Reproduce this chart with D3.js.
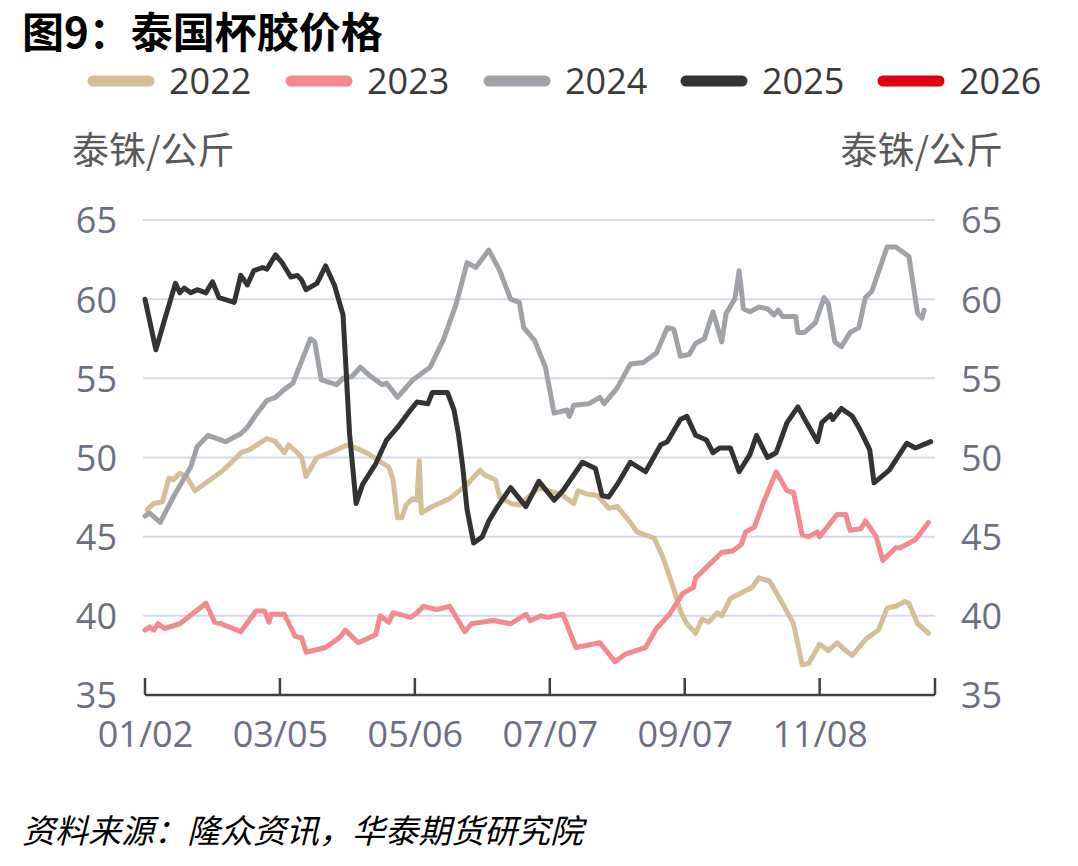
<!DOCTYPE html>
<html>
<head>
<meta charset="utf-8">
<script src="https://cdn.jsdelivr.net/npm/d3@7"></script>
<style>
  html, body { margin: 0; padding: 0; background: #ffffff; }
  svg { display: block; }
</style>
</head>
<body>
<svg id="chart" width="1078" height="866"></svg>
<script>
// ---- data (day of year, 泰铢/公斤) ----
const seriesNames = ["2022", "2023", "2024", "2025", "2026"];
const seriesColors = ["#d3bf98", "#f28a8f", "#9fa2a6", "#333333", "#e00012"];

const xTickDays = [2, 64, 126, 188, 250, 312];
const xTickLabels = ["01/02", "03/05", "05/06", "07/07", "09/07", "11/08"];
const yTicks = [35, 40, 45, 50, 55, 60, 65];

const data2022 = [[3,46.7],[6,47.1],[10,47.2],[13,48.7],[15,48.6],[18,49.0],[21,48.8],[25,47.9],[32,48.6],[38,49.2],[44,50.0],[46,50.3],[50,50.5],[58,51.2],[62,51.0],[66,50.3],[68,50.8],[72,50.3],[74,50.0],[76,48.8],[81,50.0],[87,50.3],[95,50.8],[99,50.6],[105,50.2],[114,49.4],[116,48.6],[118,46.2],[120,46.2],[122,47.0],[125,47.4],[127,47.3],[128,49.8],[129,46.5],[134,46.9],[142,47.4],[150,48.3],[156,49.2],[158,48.9],[163,48.6],[165,47.5],[170,47.1],[174,47.0],[179,47.6],[183,48.1],[190,47.8],[194,47.6],[199,47.1],[201,47.9],[205,47.7],[210,47.6],[215,46.8],[219,46.9],[225,45.9],[228,45.3],[236,44.9],[240,43.7],[244,42.1],[248,40.3],[251,39.5],[255,38.9],[258,39.8],[261,39.6],[265,40.2],[267,40.0],[271,41.1],[281,41.8],[284,42.4],[289,42.2],[294,41.0],[300,39.5],[304,36.9],[307,37.0],[312,38.2],[316,37.8],[320,38.3],[324,37.8],[327,37.5],[330,38.0],[333,38.5],[339,39.1],[343,40.5],[347,40.6],[351,40.9],[353,40.8],[357,39.5],[362,38.9]];

const data2023 = [[2,39.1],[4,39.3],[6,39.1],[8,39.5],[11,39.2],[18,39.5],[30,40.8],[34,39.6],[37,39.5],[46,39.0],[53,40.3],[57,40.3],[59,39.6],[60,40.1],[66,40.1],[71,38.7],[74,38.6],[76,37.7],[85,38.0],[89,38.4],[92,38.7],[94,39.1],[100,38.3],[108,38.8],[110,40.0],[114,39.6],[116,40.2],[124,39.9],[127,40.2],[130,40.6],[136,40.4],[142,40.6],[149,39.0],[152,39.5],[162,39.7],[170,39.5],[177,40.1],[179,39.7],[184,40.0],[187,39.9],[194,40.1],[200,38.0],[211,38.3],[218,37.1],[223,37.6],[232,38.0],[237,39.2],[243,40.1],[249,41.4],[254,41.8],[255,42.4],[267,44.0],[272,44.1],[276,44.5],[278,45.3],[282,45.6],[286,47.1],[289,48.1],[292,49.1],[297,47.9],[300,47.8],[304,45.1],[307,45.0],[311,45.3],[312,45.0],[320,46.4],[324,46.4],[326,45.4],[331,45.5],[333,46.0],[338,45.0],[341,43.5],[347,44.3],[349,44.3],[356,44.8],[362,45.9]];

const data2024 = [[2,46.3],[4,46.5],[9,45.9],[15,47.5],[23,49.4],[26,50.7],[31,51.4],[39,51.0],[46,51.5],[49,51.9],[53,52.7],[58,53.6],[62,53.8],[66,54.3],[70,54.7],[78,57.5],[80,57.3],[83,54.9],[90,54.6],[93,55.0],[97,55.1],[101,55.7],[105,55.2],[111,54.6],[113,54.7],[118,53.8],[125,54.9],[133,55.7],[139,57.4],[145,59.7],[150,62.3],[154,62.0],[160,63.1],[165,61.8],[170,60.0],[174,59.8],[176,58.2],[181,57.4],[186,55.7],[190,52.8],[196,53.0],[197,52.6],[199,53.3],[206,53.4],[211,53.8],[213,53.4],[219,54.4],[225,55.9],[231,56.0],[237,56.6],[242,58.2],[245,58.1],[248,56.4],[252,56.5],[255,57.2],[259,57.5],[263,59.2],[267,57.3],[269,59.1],[273,60.0],[275,61.8],[277,59.4],[280,59.2],[284,59.5],[288,59.4],[291,59.0],[293,59.3],[295,58.9],[301,58.9],[302,57.9],[305,57.9],[310,58.5],[314,60.1],[316,59.7],[319,57.3],[322,57.0],[326,57.9],[330,58.2],[333,60.1],[336,60.5],[343,63.3],[347,63.3],[353,62.7],[357,59.1],[359,58.8],[360,59.3]];

const data2025 = [[2,60.0],[7,56.8],[11,58.7],[16,61.0],[18,60.4],[20,60.7],[23,60.4],[26,60.6],[30,60.4],[33,61.1],[36,60.1],[43,59.8],[46,61.5],[49,60.9],[52,61.8],[56,62.0],[58,61.9],[62,62.8],[65,62.3],[69,61.4],[72,61.5],[74,61.2],[76,60.6],[81,61.0],[85,62.1],[89,60.9],[93,59.0],[96,51.5],[99,47.1],[102,48.3],[108,49.6],[113,51.1],[118,51.9],[124,53.0],[127,53.5],[132,53.4],[134,54.1],[141,54.1],[144,53.0],[146,51.5],[148,49.4],[150,46.7],[153,44.6],[157,45.0],[160,46.0],[164,46.9],[170,48.1],[177,46.9],[183,48.5],[190,47.3],[194,47.9],[203,49.7],[209,49.3],[212,47.6],[215,47.5],[219,48.3],[225,49.7],[232,49.1],[239,50.8],[242,51.0],[248,52.4],[251,52.6],[255,51.4],[260,51.1],[263,50.3],[266,50.6],[271,50.6],[275,49.1],[280,50.2],[283,51.4],[288,50.0],[292,50.3],[297,52.2],[302,53.2],[306,52.2],[311,51.0],[313,52.2],[317,52.7],[318,52.4],[322,53.1],[327,52.6],[330,51.9],[335,50.5],[337,48.4],[344,49.2],[352,50.9],[356,50.6],[363,51.0]];

const data2026 = [];

const seriesData = [data2022, data2023, data2024, data2025, data2026];

// ---- drawing ----
const svg = d3.select("#chart");
const numFont = "'Open Sans', 'Noto Sans', sans-serif";
const cjkFont = "'Noto Sans CJK SC', 'Noto Sans', sans-serif";

const x = d3.scaleLinear().domain([2, 365]).range([145, 935]);
const y = d3.scaleLinear().domain([35, 65]).range([695, 220]);

// title
svg.append("text")
  .attr("x", 22).attr("y", 48)
  .attr("font-family", cjkFont).attr("font-weight", "bold")
  .attr("font-size", 42).attr("fill", "#000")
  .text("图9：泰国杯胶价格");

// legend
const legendX = [90, 288, 486, 683, 880];
seriesNames.forEach((name, i) => {
  const g = svg.append("g").attr("transform", `translate(${legendX[i]},81)`);
  g.append("line").attr("x1", 3).attr("x2", 59).attr("y1", 0).attr("y2", 0)
    .attr("stroke", seriesColors[i]).attr("stroke-width", 11).attr("stroke-linecap", "round");
  g.append("text").attr("x", 79).attr("y", 13)
    .attr("font-family", numFont).attr("font-size", 36).attr("fill", "#3a3a3a")
    .text(name);
});

// unit labels
svg.append("text").attr("x", 72).attr("y", 164)
  .attr("font-family", cjkFont).attr("font-size", 37).attr("fill", "#595959")
  .text("泰铢/公斤");
svg.append("text").attr("x", 1003).attr("y", 164).attr("text-anchor", "end")
  .attr("font-family", cjkFont).attr("font-size", 37).attr("fill", "#595959")
  .text("泰铢/公斤");

// gridlines
svg.append("g").selectAll("line").data(yTicks.filter(v => v > 35)).join("line")
  .attr("x1", 143).attr("x2", 935)
  .attr("y1", d => y(d)).attr("y2", d => y(d))
  .attr("stroke", "#d6d9e6").attr("stroke-width", 2);

// y axes labels
const leftAxis = d3.axisLeft(y).tickValues(yTicks).tickSize(0).tickPadding(0);
const gl = svg.append("g").attr("transform", "translate(117,0)").call(leftAxis);
gl.select(".domain").remove();
gl.selectAll("text").attr("font-family", numFont).attr("font-size", 36).attr("fill", "#6d6f80").attr("dy", "0.36em");

const rightAxis = d3.axisRight(y).tickValues(yTicks).tickSize(0).tickPadding(0);
const gr = svg.append("g").attr("transform", "translate(961,0)").call(rightAxis);
gr.select(".domain").remove();
gr.selectAll("text").attr("font-family", numFont).attr("font-size", 36).attr("fill", "#6d6f80").attr("dy", "0.36em");

// lines
const line = d3.line().x(d => x(d[0])).y(d => y(d[1]));
seriesData.forEach((arr, i) => {
  if (!arr.length) return;
  svg.append("path").datum(arr)
    .attr("d", line)
    .attr("fill", "none")
    .attr("stroke", seriesColors[i])
    .attr("stroke-width", 5)
    .attr("stroke-linejoin", "round")
    .attr("stroke-linecap", "round");
});

// x axis
const xAxis = d3.axisBottom(x).tickValues(xTickDays.concat([365]))
  .tickFormat((d, i) => i < xTickLabels.length ? xTickLabels[i] : "")
  .tickSize(0).tickPadding(26);
const gx = svg.append("g").attr("transform", "translate(0,695)").call(xAxis);
gx.select(".domain").remove();
gx.selectAll("text").attr("font-family", numFont).attr("font-size", 36).attr("fill", "#6d6f80");
svg.append("line").attr("x1", 145).attr("x2", 935).attr("y1", 695).attr("y2", 695)
  .attr("stroke", "#404040").attr("stroke-width", 2.5);
svg.append("g").selectAll("line").data(xTickDays.concat([365])).join("line")
  .attr("x1", d => x(d)).attr("x2", d => x(d))
  .attr("y1", 678).attr("y2", 695)
  .attr("stroke", "#404040").attr("stroke-width", 2.5);

// source
svg.append("text").attr("x", 22).attr("y", 843)
  .attr("font-family", cjkFont).attr("font-style", "italic")
  .attr("font-size", 33).attr("fill", "#000")
  .text("资料来源：隆众资讯，华泰期货研究院");
</script>
</body>
</html>
